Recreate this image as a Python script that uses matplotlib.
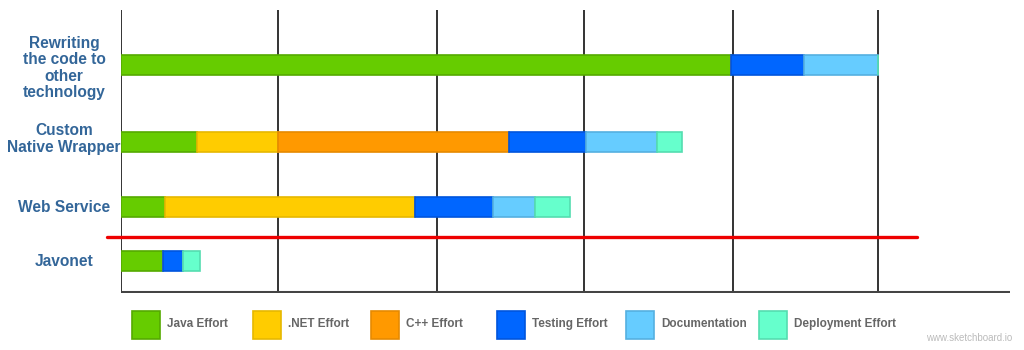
import matplotlib
matplotlib.use("Agg")
import matplotlib.pyplot as plt
from matplotlib.patches import Rectangle

# ---- data ----
categories = ["Rewriting\nthe code to\nother\ntechnology", "Custom\nNative Wrapper", "Web Service", "Javonet"]
series_names = ["Java Effort", ".NET Effort", "C++ Effort", "Testing Effort", "Documentation", "Deployment Effort"]
java_effort = [40.3, 5.0, 2.9, 2.8]
net_effort = [0, 5.35, 16.5, 0]
cpp_effort = [0, 15.3, 0, 0]
testing_effort = [4.8, 5.05, 5.15, 1.3]
documentation = [4.9, 4.7, 2.8, 0]
deployment_effort = [0, 1.65, 2.3, 1.1]
grid_ticks = [0, 10.4, 20.9, 30.6, 40.4, 50]

# ---- style / layout ----
colors = ["#66CC00", "#FFCC00", "#FF9900", "#0066FF", "#66CCFF", "#66FFCC"]
edges = ["#55AA00", "#E6B800", "#E68A00", "#0055DD", "#55B0E0", "#55DDB0"]
row_pos = [65, 142, 207, 261]   # pixel rows (axis uses pixel-like y scale)
label_pos = [68, 139, 207, 262]
bar_h = 20
W, H = 1024, 350

fig = plt.figure(figsize=(W / 100, H / 100), dpi=100)
ax_left, ax_right, ax_top, ax_bot = 121, 1010, 8, 293
ax = fig.add_axes([ax_left / W, 1 - ax_bot / H, (ax_right - ax_left) / W, (ax_bot - ax_top) / H])
px_per_unit = 15.14
ax.set_xlim(0, (ax_right - ax_left) / px_per_unit)
ax.set_ylim(ax_bot, ax_top)
ax.axis("off")

# gridlines
ax.vlines(grid_ticks, ax_top + 2, ax_bot, color="#333333", linewidth=1.4, zorder=1)
ax.hlines(ax_bot - 1, 0, (ax_right - ax_left) / px_per_unit, color="#444444", linewidth=2.2, zorder=1)

series = [java_effort, net_effort, cpp_effort, testing_effort, documentation, deployment_effort]
left = [0.0] * len(categories)
for vals, c, ec in zip(series, colors, edges):
    ax.barh(row_pos, vals, left=left, height=bar_h, color=c, edgecolor=ec, linewidth=1.2, zorder=3)
    left = [l + v for l, v in zip(left, vals)]

# red separator line
ax.plot([-0.95, 52.6], [237, 237], color="#EE0000", linewidth=2.4, solid_capstyle="round",
        clip_on=False, zorder=4)

# category labels
for cat, y in zip(categories, label_pos):
    fig.text(64 / W, 1 - y / H, cat, ha="center", va="center", fontsize=11.2,
             fontweight="bold", color="#336699", family="Liberation Sans", linespacing=1.1)

# legend
sq_x = [132, 253, 371, 497, 626, 759]
for name, c, ec, x in zip(series_names, colors, edges, sq_x):
    fig.patches.append(Rectangle((x / W, 1 - 339 / H), 28 / W, 28 / H, transform=fig.transFigure,
                                 facecolor=c, edgecolor=ec, linewidth=1.2))
    fig.text((x + 35) / W, 1 - 324 / H, name, ha="left", va="center", fontsize=8.5,
             fontweight="bold", color="#666666", family="Liberation Sans")

fig.text(1012 / W, 1 - 338 / H, "www.sketchboard.io", ha="right", va="center", fontsize=7,
         color="#BBBBBB", family="Liberation Sans")

fig.savefig("out.png", dpi=100, facecolor="white")
